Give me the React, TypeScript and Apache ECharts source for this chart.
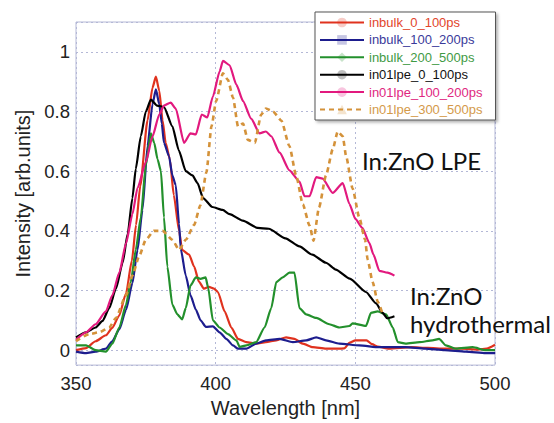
import React, { useEffect, useRef } from "react";
import * as echarts from "echarts";

// Time-resolved PL spectra: [wavelength nm, normalized intensity]
const inbulk_0_100ps: [number, number][] = [
  [350, 0.0], [353.6, 0.007], [357, 0.03], [360.7, 0.05], [363, 0.075], [365.4, 0.115],
  [367.9, 0.19], [370, 0.3], [371.5, 0.42], [373, 0.55], [375.6, 0.77], [377.4, 0.88],
  [378.6, 0.917], [379.8, 0.87], [381, 0.77], [382.1, 0.695], [383.6, 0.64], [385, 0.52],
  [386.9, 0.4], [388, 0.336], [390.5, 0.32], [392.3, 0.28], [394, 0.23], [395.8, 0.206],
  [397.6, 0.212], [399.4, 0.206], [400.8, 0.195], [403.2, 0.13], [405.6, 0.076], [408, 0.038],
  [411, 0.027], [414.5, 0.022], [418, 0.027], [421.7, 0.033], [425.2, 0.043], [428.2, 0.038],
  [431.2, 0.022], [434.8, 0.01], [439.5, 0.005], [444, 0.005], [446, 0.006], [448, 0.025],
  [450, 0.033], [454, 0.033], [456, 0.02], [458, 0.012], [462, 0.005], [470, 0.01],
  [476, 0.008], [482, 0.005], [488, 0.005], [494, 0.002], [497, 0.005], [500, 0.018],
];

const inbulk_100_200ps: [number, number][] = [
  [350, -0.005], [353.6, -0.01], [357, -0.005], [360.7, 0.005], [363, 0.03], [365.5, 0.07],
  [367.9, 0.135], [370.2, 0.225], [372, 0.335], [373.8, 0.47], [375.6, 0.684], [377.4, 0.825],
  [378.6, 0.874], [379.8, 0.825], [380.7, 0.76], [381.5, 0.695], [383.3, 0.65], [384.5, 0.586],
  [385.7, 0.553], [386.9, 0.423], [387.5, 0.34], [389.3, 0.25], [391, 0.184], [392.9, 0.136],
  [394.6, 0.1], [396.5, 0.078], [399, 0.08], [401.4, 0.06], [403.8, 0.038], [406.2, 0.016],
  [408, 0.005], [411, 0.005], [414.5, 0.022], [418, 0.033], [422.9, 0.038], [427.6, 0.027],
  [432.4, 0.033], [436, 0.043], [439.5, 0.033], [444.3, 0.022], [451.4, 0.016], [458.6, 0.01],
  [468, 0.01], [475, 0.005], [482, 0.0], [489.5, -0.005], [496.7, -0.01], [500, -0.01],
];

const inbulk_200_500ps: [number, number][] = [
  [350, 0.016], [353.6, 0.016], [357, 0.0], [360.7, -0.005], [363, 0.022], [365.5, 0.076],
  [367.9, 0.152], [369.6, 0.228], [371.4, 0.336], [373.2, 0.445], [375, 0.62], [376.8, 0.727],
  [378, 0.695], [379.2, 0.64], [380.4, 0.6], [381.5, 0.445], [382.7, 0.28], [384.5, 0.152],
  [386.3, 0.12], [388, 0.103], [389.3, 0.141], [391, 0.217], [392.9, 0.244], [394.6, 0.239],
  [396.4, 0.244], [397.3, 0.21], [399, 0.1], [401.4, 0.076], [404.4, 0.054], [407.4, 0.033],
  [408.6, 0.011], [411, 0.016], [414.5, 0.027], [417.5, 0.076], [419.9, 0.141], [421.7, 0.228],
  [424, 0.244], [426.4, 0.26], [428.2, 0.26], [430, 0.141], [432.4, 0.12], [436, 0.108],
  [440.7, 0.087], [444.3, 0.076], [447.9, 0.081], [449, 0.09], [453.8, 0.081], [455.6, 0.125],
  [458, 0.13], [461, 0.12], [463.4, 0.076], [465.2, 0.027], [468, 0.022], [473, 0.027],
  [477.6, 0.033], [480, 0.038], [482.4, 0.016], [486, 0.005], [492, 0.01], [496.7, 0.0],
  [500, 0.0],
];

const in01lpe_0_100ps: [number, number][] = [
  [350, 0.043], [353.6, 0.06], [357, 0.076], [359.5, 0.098], [361.9, 0.141], [364.3, 0.206],
  [366.7, 0.293], [368.5, 0.39], [370.2, 0.51], [371.4, 0.608], [373.2, 0.717], [375, 0.8],
  [376.8, 0.84], [379, 0.82], [381.5, 0.815], [384.5, 0.75], [386.8, 0.67], [389.3, 0.6],
  [391.7, 0.586], [393.5, 0.56], [395.5, 0.51], [398.8, 0.48], [402.5, 0.47], [405, 0.456],
  [409.7, 0.434], [415, 0.41], [419, 0.407], [425, 0.375], [430, 0.348], [434.6, 0.32],
  [439.5, 0.293], [443, 0.27], [448, 0.24], [453.8, 0.195], [457.4, 0.157], [459.8, 0.125],
  [461.4, 0.107], [464, 0.114],
];

const in01lpe_100_200ps: [number, number][] = [
  [350, 0.035], [353.6, 0.06], [357, 0.087], [360.7, 0.13], [363, 0.184], [365.5, 0.26],
  [367.9, 0.358], [370.2, 0.456], [372, 0.543], [375, 0.63], [377.4, 0.717], [379.8, 0.79],
  [381.5, 0.82], [383.9, 0.83], [385.7, 0.81], [388.7, 0.695], [391, 0.727], [392.9, 0.723],
  [395, 0.79], [397, 0.78], [399, 0.85], [401.4, 0.934], [402.6, 0.97], [405, 0.955],
  [407.4, 0.89], [409.8, 0.835], [412.7, 0.776], [415.7, 0.727], [418, 0.733], [419.9, 0.717],
  [422.9, 0.662], [426.4, 0.603], [430, 0.565], [431.8, 0.516], [433.6, 0.516], [436, 0.58],
  [438.3, 0.575], [441.9, 0.527], [445.5, 0.56], [447.9, 0.49], [450, 0.44], [452.5, 0.41],
  [455, 0.36], [456.5, 0.32], [458.6, 0.266], [461.5, 0.26], [464, 0.25],
];

const in01lpe_300_500ps: [number, number][] = [
  [350, 0.03], [354.8, 0.054], [358.3, 0.06], [361.9, 0.076], [364.3, 0.108], [367.9, 0.184],
  [370.2, 0.25], [372.6, 0.315], [375, 0.37], [377.9, 0.4], [381, 0.4], [384.5, 0.37],
  [386.9, 0.336], [389.3, 0.37], [392.3, 0.42], [394.5, 0.485], [396.7, 0.597], [398.5, 0.75],
  [400.2, 0.836], [402.6, 0.928], [404.4, 0.906], [406.2, 0.847], [408, 0.75], [409.8, 0.76],
  [411.5, 0.705], [414, 0.695], [416.3, 0.79], [418, 0.81], [420.5, 0.8], [423.5, 0.77],
  [426.4, 0.684], [428.8, 0.586], [431.2, 0.489], [433.6, 0.418], [435, 0.367], [437, 0.478],
  [439.5, 0.586], [441.9, 0.673], [443.7, 0.733], [445.5, 0.717], [446.7, 0.65], [449, 0.543],
  [451.4, 0.445], [453.5, 0.37], [454.4, 0.304], [456.2, 0.228], [458, 0.163], [459.8, 0.12],
];

const seriesNames = [
  "inbulk_0_100ps",
  "inbulk_100_200ps",
  "inbulk_200_500ps",
  "in01lpe_0_100ps",
  "in01lpe_100_200ps",
  "in01lpe_300_500ps",
];
const seriesData = [
  inbulk_0_100ps,
  inbulk_100_200ps,
  inbulk_200_500ps,
  in01lpe_0_100ps,
  in01lpe_100_200ps,
  in01lpe_300_500ps,
];
const seriesColors = ["#e0321e", "#1d1d8e", "#23902c", "#000000", "#e2197e", "#d4923a"];
const legendTextColors = ["#e2452c", "#3a3a9a", "#3f9a44", "#111111", "#e0287f", "#d49a4a"];
// marker glyph of each series (shown faintly in the legend only)
const seriesMarkers = ["circle", "rect", "diamond", "circle", "circle", "triangle"];

const xTicks = { min: 350, max: 500, step: 50 };
const yRange = { min: -0.05, max: 1.1, step: 0.2 };

const annotations = ["In:ZnO LPE", "In:ZnO", "hydrothermal"];

const SANS = "'Liberation Sans', Arial, Helvetica, sans-serif";
const LABEL_FONT = "Lato, 'Open Sans', sans-serif";

export default function App() {
  const ref = useRef<HTMLDivElement>(null);

  useEffect(() => {
    if (!ref.current) return;
    const chart = echarts.init(ref.current, undefined, { renderer: "svg" });

    const series = seriesNames.map((name, i) => ({
      name,
      type: "line",
      data: seriesData[i],
      showSymbol: false,
      symbol: seriesMarkers[i],
      symbolSize: 6,
      smooth: 0.2,
      smoothMonotone: "x",
      z: 2 + i,
      lineStyle: {
        color: seriesColors[i],
        width: i === 5 ? 2.6 : 2.2,
        type: i === 5 ? [5, 4] : "solid",
      },
      itemStyle: { color: seriesColors[i] },
    }));

    chart.setOption({
      animation: false,
      backgroundColor: "#ffffff",
      grid: {
        left: 76,
        right: 59,
        top: 22,
        bottom: 49,
        show: true,
        borderColor: "#b4b8d6",
        borderWidth: 1,
      },
      xAxis: {
        type: "value",
        min: xTicks.min,
        max: xTicks.max,
        interval: xTicks.step,
        name: "Wavelength [nm]",
        nameLocation: "middle",
        nameGap: 30,
        nameTextStyle: { fontFamily: SANS, fontSize: 20, color: "#222" },
        axisLine: { show: false },
        axisTick: { show: false },
        axisLabel: { fontFamily: SANS, fontSize: 18.5, color: "#222", margin: 9 },
        splitLine: { show: true, lineStyle: { color: "#b4b8d6", type: [2, 3], width: 1 } },
      },
      yAxis: {
        type: "value",
        min: yRange.min,
        max: yRange.max,
        minInterval: yRange.step,
        maxInterval: yRange.step,
        splitNumber: 5,
        name: "Intensity [arb.units]",
        nameLocation: "middle",
        nameGap: 34,
        nameTextStyle: { fontFamily: SANS, fontSize: 20, color: "#222" },
        axisLine: { show: false },
        axisTick: { show: false },
        axisLabel: {
          fontFamily: SANS,
          fontSize: 18.5,
          color: "#222",
          margin: 6,
          formatter: (v: number) => {
            const k = Math.round(v / yRange.step);
            if (Math.abs(v - k * yRange.step) > 1e-6) return "";
            return String(Math.round(k * yRange.step * 10) / 10);
          },
        },
        splitLine: { show: true, lineStyle: { color: "#b4b8d6", type: [2, 3], width: 1 } },
      },
      legend: {
        orient: "vertical",
        left: 315,
        top: 12,
        padding: [4, 13, 4, 4],
        itemWidth: 44,
        itemHeight: 12,
        itemGap: 4.4,
        backgroundColor: "#ffffff",
        borderColor: "#555555",
        borderWidth: 1,
        shadowBlur: 3,
        shadowColor: "rgba(0,0,0,0.3)",
        shadowOffsetX: 2,
        shadowOffsetY: 2,
        itemStyle: { opacity: 0.25 },
        data: seriesNames.map((name, i) => ({
          name,
          textStyle: { color: legendTextColors[i] },
        })),
        textStyle: { fontFamily: SANS, fontSize: 13, lineHeight: 12, padding: [0, 0, 0, 0] },
      },
      graphic: [
        {
          type: "text",
          left: 362,
          top: 148,
          z: 20,
          style: { text: annotations[0], font: `24px ${LABEL_FONT}`, lineHeight: 24, fill: "#111" },
        },
        {
          type: "text",
          left: 410,
          top: 283,
          z: 20,
          style: { text: annotations[1], font: `24px ${LABEL_FONT}`, lineHeight: 24, fill: "#111" },
        },
        {
          type: "text",
          left: 410,
          top: 311,
          z: 20,
          style: { text: annotations[2], font: `24px ${LABEL_FONT}`, lineHeight: 24, fill: "#111" },
        },
      ],
      series,
    });

    return () => chart.dispose();
  }, []);

  return (
    <div
      ref={ref}
      style={{ position: "fixed", left: 0, top: 0, width: 554, height: 423, background: "#fff" }}
    />
  );
}
